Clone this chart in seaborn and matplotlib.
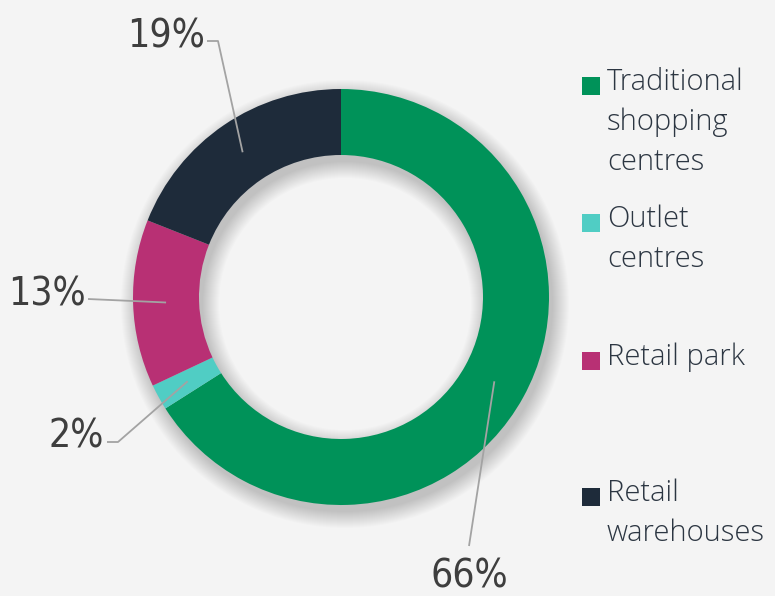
import matplotlib.pyplot as plt
import numpy as np
import seaborn as sns
from matplotlib.patches import Rectangle, Wedge

categories = ["Traditional\nshopping\ncentres", "Outlet\ncentres", "Retail park", "Retail\nwarehouses"]
shares = [66, 2, 13, 19]
share_labels = ["66%", "2%", "13%", "19%"]
colors = ["#009259", "#50cdc4", "#b83074", "#1e2b3a"]

W, H = 775, 596
CX, CY = 341, H - 297
R_OUT, R_IN = 208, 142


def px(x, y):
    # pixel coords (origin top-left) -> data coords
    return x, H - y


def draw_shadow(ax):
    dx, dy = 4, -7
    for s in np.linspace(0, 16, 17):
        ring = Wedge((CX + dx, CY + dy), R_OUT + s, 0, 360, width=(R_OUT - R_IN) + 2 * s,
                     facecolor="black", alpha=0.011, linewidth=0, zorder=1)
        ax.add_patch(ring)


def draw_labels(ax, wedges):
    # text centre, leader path (before ring point), per slice
    layout = {
        "66%": ((469, 576), [(469, 546)]),
        "2%": ((76, 437), [(107, 442), (118, 442)]),
        "13%": ((47, 295), [(88, 299)]),
        "19%": ((166, 37), [(207, 41), (218, 41)]),
    }
    r_mid = (R_OUT + R_IN) / 2
    for wedge, label in zip(wedges, share_labels):
        ang = np.deg2rad((wedge.theta1 + wedge.theta2) / 2)
        end = (CX + r_mid * np.cos(ang), CY + r_mid * np.sin(ang))
        (tx, ty), pts = layout[label]
        path = [px(*p) for p in pts] + [end]
        xs, ys = zip(*path)
        ax.plot(xs, ys, color="#a3a3a3", lw=1.3, zorder=5, solid_capstyle="butt")
        ax.text(*px(tx, ty), label, ha="center", va="center", fontsize=28, color="#3e3e3e",
                family="DejaVu Sans", fontstretch="condensed", zorder=6)


def draw_legend(fig):
    rows = [86, 223, 361, 497]
    for label, color, yc in zip(categories, colors, rows):
        fig.add_artist(Rectangle((582 / W, (H - yc - 9) / H), 18 / W, 18 / H,
                                 transform=fig.transFigure, facecolor=color, lw=0))
        lines = label.split("\n")
        for i, line in enumerate(lines):
            fig.text(607 / W, (H - (yc - 4 + i * 40)) / H, line, ha="left", va="center",
                     fontsize=21, color="#2c3642", family=["Open Sans", "DejaVu Sans"],
                     fontweight="light")


sns.set_theme(style="white")
fig = plt.figure(figsize=(W / 100, H / 100), dpi=100, facecolor="#f4f4f4")
ax = fig.add_axes([0, 0, 1, 1])
ax.set_facecolor("#f4f4f4")

draw_shadow(ax)
wedges, _ = ax.pie(shares, colors=colors, startangle=90, counterclock=False, radius=R_OUT,
                   center=(CX, CY), wedgeprops=dict(width=R_OUT - R_IN, linewidth=0, zorder=3))
draw_labels(ax, wedges)
draw_legend(fig)

ax.set_xlim(0, W)
ax.set_ylim(0, H)
ax.set_aspect("equal")
ax.axis("off")

fig.savefig("out.png", dpi=100, facecolor=fig.get_facecolor())
plt.close()
